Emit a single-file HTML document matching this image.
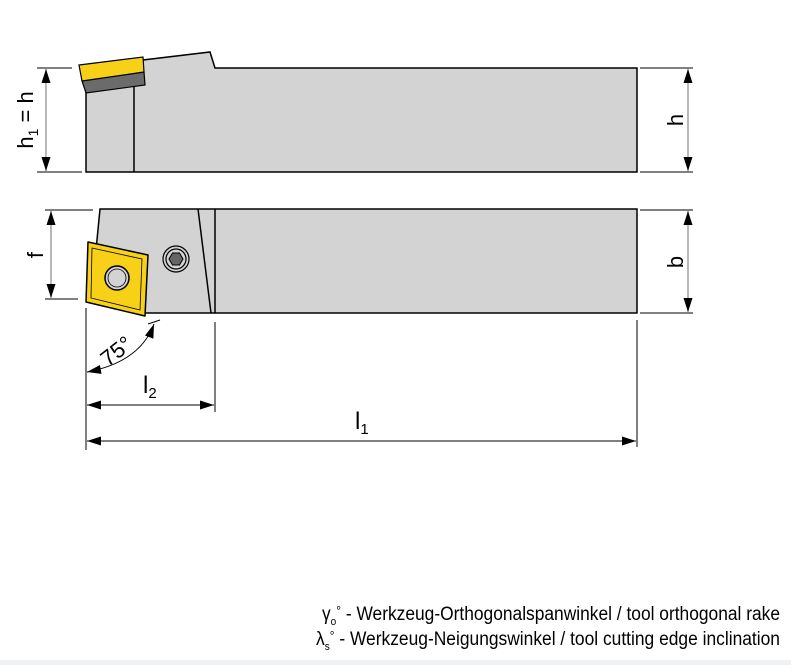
<!DOCTYPE html>
<html><head><style>body{margin:0;background:#fff}svg{display:block}</style></head><body>
<svg width="791" height="665" viewBox="0 0 791 665" xmlns="http://www.w3.org/2000/svg" font-family="Liberation Sans, sans-serif">
<defs>
<marker id="a" viewBox="0 0 14 10" refX="14" refY="5" markerWidth="14" markerHeight="10" markerUnits="userSpaceOnUse" orient="auto-start-reverse"><path d="M0,0.5 L14,5 L0,9.5 z" fill="#000"/></marker>
</defs>
<rect x="0" y="660" width="791" height="5" fill="#eef2f5"/>
<!-- top view -->
<polygon points="86,93 143,60 210,52 215,68 637,68 637,172 86,172" fill="#d3d3d3" stroke="#000" stroke-width="1.5"/>
<line x1="134" y1="86" x2="134" y2="172" stroke="#000" stroke-width="1.5"/>
<polygon points="82,81 144,72 145,85 86,93" fill="#6b6b6b" stroke="#000" stroke-width="1.2"/>
<polygon points="79,65 143,57 144,72 82,81" fill="#f7d117" stroke="#000" stroke-width="1.2"/>
<g stroke="#000" stroke-width="1">
<line x1="37" y1="68" x2="72" y2="68"/><line x1="37" y1="172" x2="82" y2="172"/>
<line x1="640" y1="68" x2="693" y2="68"/><line x1="640" y1="172" x2="693" y2="172"/>
</g>
<line x1="46" y1="69" x2="46" y2="171" stroke="#888" stroke-width="1.2" marker-start="url(#a)" marker-end="url(#a)"/>
<line x1="688" y1="69" x2="688" y2="171" stroke="#888" stroke-width="1.2" marker-start="url(#a)" marker-end="url(#a)"/>
<text transform="translate(33,120) rotate(-90)" text-anchor="middle" font-size="22">h<tspan font-size="14" dy="5">1</tspan><tspan dy="-5"> = h</tspan></text>
<text transform="translate(683,120) rotate(-90)" text-anchor="middle" font-size="22">h</text>
<!-- bottom view -->
<polygon points="100,209 637,209 637,313 140,313 96,250" fill="#d3d3d3" stroke="#000" stroke-width="1.5"/>
<line x1="198" y1="209" x2="211" y2="313" stroke="#000" stroke-width="1.5"/>
<line x1="215" y1="209" x2="215" y2="313" stroke="#000" stroke-width="1.5"/>
<circle cx="176" cy="259" r="13" fill="#d3d3d3" stroke="#000" stroke-width="1.2"/>
<circle cx="176" cy="259" r="10" fill="none" stroke="#000" stroke-width="1.2"/>
<polygon points="183,259 179.5,265 172.5,265 169,259 172.5,253 179.5,253" fill="#666" stroke="#000" stroke-width="1"/>
<polygon points="88,242 148,255 145,316 86,302" fill="#f7d117" stroke="#000" stroke-width="1.5" stroke-linejoin="round"/>
<polygon points="92,248 142,259 140,310 91,298" fill="none" stroke="#000" stroke-width="0.8"/>
<circle cx="117" cy="278" r="12" fill="#d3d3d3" stroke="#000" stroke-width="1.5"/>
<circle cx="117" cy="278" r="9" fill="none" stroke="#000" stroke-width="0.8"/>
<g stroke="#000" stroke-width="1">
<line x1="45" y1="210" x2="93" y2="210"/><line x1="45" y1="299" x2="78" y2="299"/>
<line x1="640" y1="210" x2="693" y2="210"/><line x1="640" y1="313" x2="693" y2="313"/>
<line x1="86" y1="308" x2="86" y2="450"/><line x1="215" y1="322" x2="215" y2="412"/>
<line x1="637" y1="320" x2="637" y2="447"/>
<line x1="148" y1="324" x2="160" y2="320"/>
</g>
<line x1="51" y1="211" x2="51" y2="298" stroke="#888" stroke-width="1.2" marker-start="url(#a)" marker-end="url(#a)"/>
<line x1="688" y1="211" x2="688" y2="312" stroke="#888" stroke-width="1.2" marker-start="url(#a)" marker-end="url(#a)"/>
<line x1="87" y1="405" x2="214" y2="405" stroke="#000" stroke-width="1" marker-start="url(#a)" marker-end="url(#a)"/>
<line x1="87" y1="441" x2="636" y2="441" stroke="#000" stroke-width="1" marker-start="url(#a)" marker-end="url(#a)"/>
<path d="M87,372 Q140,362 154,324" fill="none" stroke="#000" stroke-width="1" marker-start="url(#a)" marker-end="url(#a)"/>
<text transform="translate(43,255) rotate(-90)" text-anchor="middle" font-size="22">f</text>
<text transform="translate(683,262) rotate(-90)" text-anchor="middle" font-size="22">b</text>
<text transform="translate(121,357) rotate(-38)" text-anchor="middle" font-size="22">75°</text>
<text x="143" y="393" font-size="24">l<tspan font-size="15" dy="5">2</tspan></text>
<text x="355" y="429" font-size="24">l<tspan font-size="15" dy="5">1</tspan></text>
<!-- footer -->
<text x="780" y="620" text-anchor="end" font-size="19" textLength="458" lengthAdjust="spacingAndGlyphs">γ<tspan font-size="11" dy="5">o</tspan><tspan dy="-10" font-size="13">°</tspan><tspan dy="5" font-size="19"> - Werkzeug-Orthogonalspanwinkel / tool orthogonal rake</tspan></text>
<text x="780" y="645" text-anchor="end" font-size="19" textLength="464" lengthAdjust="spacingAndGlyphs">λ<tspan font-size="11" dy="5">s</tspan><tspan dy="-10" font-size="13">°</tspan><tspan dy="5" font-size="19"> - Werkzeug-Neigungswinkel / tool cutting edge inclination</tspan></text>
</svg>
</body></html>
